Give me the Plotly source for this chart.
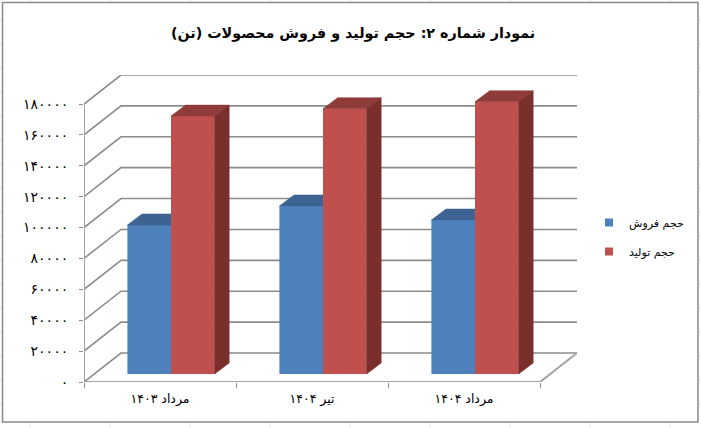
import plotly.graph_objects as go

# ---- data ----
categories = ["مرداد ۱۴۰۳", "تیر ۱۴۰۴", "مرداد ۱۴۰۴"]
sales = [96500, 108800, 99700]
production = [167000, 171800, 176300]
sales_name = "حجم فروش"
production_name = "حجم تولید"
title_text = "نمودار شماره ۲: حجم تولید و فروش محصولات (تن)"
y_ticks = [0, 20000, 40000, 60000, 80000, 100000, 120000, 140000, 160000, 180000]
y_tick_labels = ["۰", "۲۰۰۰۰", "۴۰۰۰۰", "۶۰۰۰۰", "۸۰۰۰۰", "۱۰۰۰۰۰", "۱۲۰۰۰۰", "۱۴۰۰۰۰", "۱۶۰۰۰۰", "۱۸۰۰۰۰"]

# ---- styling / pseudo-3D projection ----
W, H = 701, 428
L, R, T, B = 84, 577, 75, 382           # plot area in page pixels
UX = 152.0                              # px per category
UY = 278.0 / 180000                     # px per value unit
DEPTH_X, DEPTH_Y = 37 / UX, 29 / UY     # wall depth
BAR_DX, BAR_DY = 14.6 / UX, 11 / UY     # bar depth
BASE = 8 / UY                           # bars stand a little behind the front edge
BAR_W = 43.6 / UX
CENTER = 87.0 / UX                      # boundary between the two bars in a group
FONT = "DejaVu Sans"
GRID = "#8c8c8c"
BLUE, BLUE_TOP = "#4f81bd", "#3c6391"
RED, RED_TOP, RED_SIDE = "#c0504d", "#8f3b39", "#7b2f2d"
Y_MAX = 180000 + DEPTH_Y
X_MAX = len(categories) + DEPTH_X

fig = go.Figure()


def line(xs, ys, color=GRID, width=1.6):
    fig.add_trace(go.Scatter(x=xs, y=ys, mode="lines", line=dict(color=color, width=width),
                             showlegend=False, hoverinfo="skip", cliponaxis=False, yaxis="y"))


# back wall + side wall grid
for v in y_ticks:
    line([0, DEPTH_X, X_MAX], [v, v + DEPTH_Y, v + DEPTH_Y])
# left edge and floor
line([0, 0], [0, 180000], "#a3a3a3", 2)
line([0, len(categories), X_MAX], [0, 0, DEPTH_Y], "#a3a3a3", 2)


def face(xs, ys, color, yaxis):
    fig.add_trace(go.Scatter(x=xs, y=ys, fill="toself", mode="lines", fillcolor=color,
                             line=dict(color=color, width=0.5), showlegend=False,
                             hoverinfo="skip", yaxis=yaxis, cliponaxis=False))


def bars(values, left_offset, name, color, top_color, side_color, yaxis):
    lefts = [i + left_offset for i in range(len(values))]
    fig.add_trace(go.Bar(x=lefts, y=values, base=BASE, width=BAR_W, offset=0, name=name,
                         marker=dict(color=color, line=dict(width=0)), yaxis=yaxis,
                         legendgroup=name, showlegend=False))
    # small square legend key for the series
    fig.add_trace(go.Scatter(x=[None], y=[None], mode="markers", name=name, legendgroup=name,
                             marker=dict(symbol="square", size=8, color=color), yaxis=yaxis))
    for x0, v in zip(lefts, values):
        x1, top = x0 + BAR_W, BASE + v
        face([x0, x0 + BAR_DX, x1 + BAR_DX, x1, x0],
             [top, top + BAR_DY, top + BAR_DY, top, top], top_color, yaxis)
        if side_color:
            face([x1, x1 + BAR_DX, x1 + BAR_DX, x1, x1],
                 [BASE, BASE + BAR_DY, top + BAR_DY, top, BASE], side_color, yaxis)


bars(sales, CENTER - BAR_W, sales_name, BLUE, BLUE_TOP, None, "y2")
bars(production, CENTER, production_name, RED, RED_TOP, RED_SIDE, "y3")


def px(x):
    return (x - L) / (R - L)


def py(y):
    return (B - y) / (B - T)


# sheet cell lines behind the chart, chart frame
shapes = []
for x in [30, 110, 190, 270, 350, 430, 510, 590, 670]:
    shapes.append(dict(type="line", xref="paper", yref="paper", x0=px(x), x1=px(x), y0=py(0), y1=py(H),
                       line=dict(color="#e3e3e3", width=1), layer="below"))
for y in range(20, H, 24):
    shapes.append(dict(type="line", xref="paper", yref="paper", x0=px(0), x1=px(W), y0=py(y), y1=py(y),
                       line=dict(color="#e3e3e3", width=1), layer="below"))
shapes.append(dict(type="rect", xref="paper", yref="paper", x0=px(2.5), x1=px(698), y0=py(2.5), y1=py(422),
                   fillcolor="white", line=dict(color="#8a8a8a", width=1.5), layer="below"))

same_y = dict(range=[0, Y_MAX], visible=False, overlaying="y", fixedrange=True)
fig.update_layout(
    width=W, height=H, margin=dict(l=L, r=W - R, t=T, b=H - B, autoexpand=False),
    paper_bgcolor="white", plot_bgcolor="rgba(0,0,0,0)",
    font=dict(family=FONT, color="black", size=11),
    title=dict(text="<b>" + title_text + "</b>", font=dict(family=FONT, size=14.3, color="black"),
               x=353 / W, xanchor="center", y=1 - 33 / H, yanchor="middle"),
    xaxis=dict(range=[0, X_MAX], tickvals=[i + 0.5 for i in range(len(categories))], ticktext=categories,
               ticks="", showgrid=False, zeroline=False, showline=False, ticklabelstandoff=7,
               tickfont=dict(family=FONT, size=12.5),
               minor=dict(tickvals=list(range(len(categories) + 1)), ticks="outside", ticklen=5,
                          tickcolor=GRID, tickwidth=1, showgrid=False)),
    yaxis=dict(range=[0, Y_MAX], tickvals=y_ticks, ticktext=y_tick_labels, ticks="outside", ticklen=4,
               tickcolor=GRID, tickwidth=1, showgrid=False, zeroline=False, showline=False,
               ticklabelstandoff=8, tickfont=dict(family=FONT, size=14)),
    yaxis2=same_y, yaxis3=same_y,
    legend=dict(x=(589 - L) / (R - L), xanchor="left", y=py(208), yanchor="top",
                tracegroupgap=10, font=dict(family=FONT, size=11), bgcolor="rgba(0,0,0,0)"),
    shapes=shapes, showlegend=True, barmode="overlay",
)

fig.write_html("out.html", post_script="document.body.style.margin='0';",
               config=dict(displayModeBar=False))
